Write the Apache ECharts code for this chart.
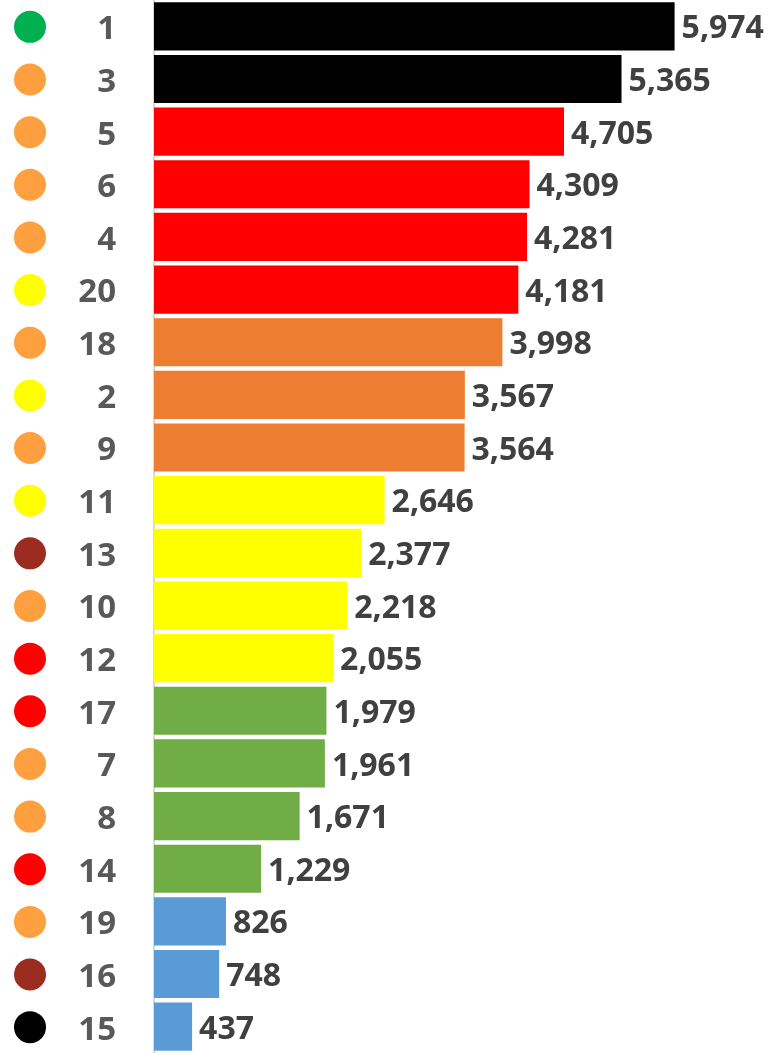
<!DOCTYPE html>
<html>
<head>
<meta charset="utf-8">
<script src="https://cdn.jsdelivr.net/npm/echarts@6/dist/echarts.min.js"></script>
<style>
  html, body { margin: 0; padding: 0; background: #fff; }
  #chart { width: 774px; height: 1053px; }
</style>
</head>
<body>
<div id="chart"></div>
<script>
// 数据
var categories = ['1', '3', '5', '6', '4', '20', '18', '2', '9', '11', '13', '10', '12', '17', '7', '8', '14', '19', '16', '15'];
var values = [5974, 5365, 4705, 4309, 4281, 4181, 3998, 3567, 3564, 2646, 2377, 2218, 2055, 1979, 1961, 1671, 1229, 826, 748, 437];
// 柱子颜色分组
var barGroups = ['black', 'black', 'red', 'red', 'red', 'red', 'orange', 'orange', 'orange', 'yellow', 'yellow', 'yellow', 'yellow', 'green', 'green', 'green', 'green', 'blue', 'blue', 'blue'];
// 左侧圆点颜色
var dotGroups = ['green', 'orange', 'orange', 'orange', 'orange', 'yellow', 'orange', 'yellow', 'orange', 'yellow', 'brown', 'orange', 'red', 'red', 'orange', 'orange', 'red', 'orange', 'brown', 'black'];

var barColors = {
    black: '#000000',
    red: '#ff0000',
    orange: '#ed7d31',
    yellow: '#ffff00',
    green: '#70ad47',
    blue: '#5b9bd5'
};
var dotColors = {
    green: '#00b050',
    orange: '#ffa040',
    yellow: '#ffff00',
    brown: '#9c2b20',
    red: '#ff0000',
    black: '#000000'
};

// 富文本样式
var rich = {
    num: {
        width: 70,
        align: 'right',
        fontSize: 33,
        lineHeight: 33,
        fontWeight: 'bold',
        fontFamily: 'Open Sans',
        color: '#595959',
        padding: [7, 0, 0, 0]
    }
};
Object.keys(dotColors).forEach(function (k) {
    rich['dot_' + k] = {
        width: 32,
        height: 32,
        borderRadius: 16,
        verticalAlign: 'bottom',
        backgroundColor: dotColors[k]
    };
});

var chart = echarts.init(document.getElementById('chart'));
chart.setOption({
    animation: false,
    grid: {
        left: 154,
        right: 10,
        top: 0,
        height: 1057,
        containLabel: false
    },
    xAxis: {
        type: 'value',
        min: 0,
        max: 7000,
        show: false
    },
    yAxis: {
        type: 'category',
        inverse: true,
        data: categories,
        axisLine: {
            show: true,
            lineStyle: { color: '#d9d9d9', width: 2 }
        },
        axisTick: { show: false },
        axisLabel: {
            margin: 38,
            formatter: function (v, i) {
                return '{dot_' + dotGroups[i] + '|}{num|' + v + '}';
            },
            rich: rich
        }
    },
    series: [{
        type: 'bar',
        barCategoryGap: '8.5%',
        data: values.map(function (v, i) {
            return {
                value: v,
                itemStyle: { color: barColors[barGroups[i]] }
            };
        }),
        label: {
            show: true,
            position: 'right',
            distance: 7,
            offset: [0, 3],
            fontSize: 32,
            fontWeight: 'bold',
            fontFamily: 'Open Sans',
            color: '#404040',
            formatter: function (p) {
                return String(p.value).replace(/\B(?=(\d{3})+(?!\d))/g, ',');
            }
        }
    }]
});
</script>
</body>
</html>
